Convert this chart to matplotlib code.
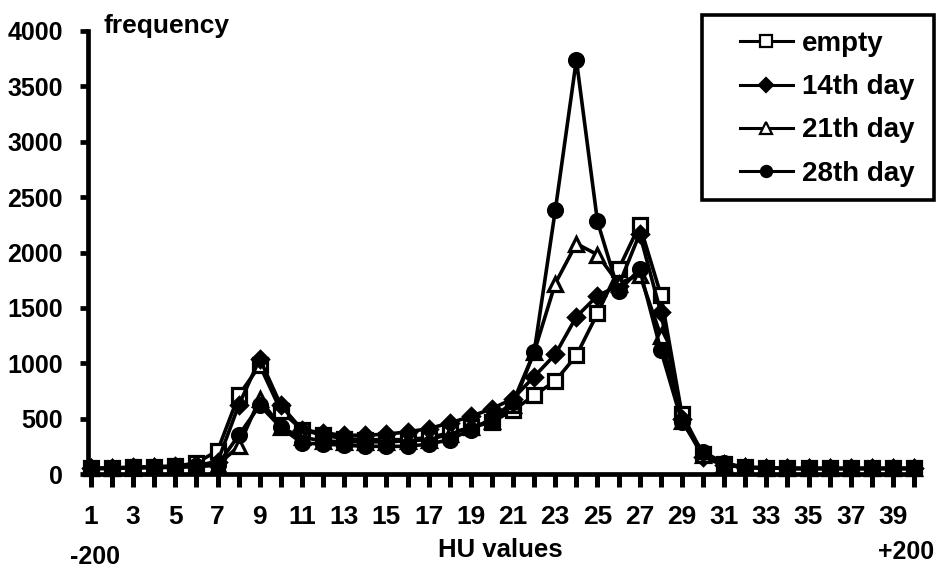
import matplotlib
matplotlib.use("Agg")
import matplotlib.pyplot as plt
from matplotlib.lines import Line2D
from matplotlib.patches import Rectangle

plt.rcParams['font.family'] = ['Liberation Sans', 'DejaVu Sans']
plt.rcParams['font.weight'] = 'bold'

categories = list(range(1, 41))
empty = [50, 55, 60, 65, 70, 100, 210, 710, 980, 570, 400, 350, 320, 310, 310, 310, 330, 370, 420, 470,
         575, 710, 840, 1070, 1450, 1850, 2250, 1620, 540, 180, 90, 60, 55, 50, 50, 50, 50, 50, 50, 50]
day14 = [50, 55, 60, 65, 70, 80, 110, 620, 1040, 620, 400, 370, 350, 350, 360, 380, 410, 460, 520, 590,
         680, 880, 1080, 1420, 1610, 1700, 2170, 1460, 500, 150, 80, 60, 55, 50, 50, 50, 50, 50, 50, 50]
day21 = [50, 50, 55, 60, 60, 70, 80, 250, 680, 420, 330, 300, 290, 290, 290, 300, 310, 360, 420, 480,
         620, 1100, 1720, 2080, 1980, 1720, 1800, 1250, 480, 170, 90, 60, 55, 50, 50, 50, 50, 50, 50, 50]
day28 = [50, 50, 55, 60, 60, 70, 80, 350, 620, 420, 280, 270, 260, 250, 250, 250, 270, 310, 400, 500,
         650, 1100, 2380, 3740, 2280, 1650, 1850, 1120, 470, 200, 100, 60, 55, 50, 50, 50, 50, 50, 50, 50]
series_labels = ['empty', '14th day', '21th day', '28th day']
yticks = [0, 500, 1000, 1500, 2000, 2500, 3000, 3500, 4000]

W, H = 937, 571
fig = plt.figure(figsize=(W/100, H/100), dpi=100)
ax = fig.add_axes([88/W, 1-474/H, (917-88)/W, (474-31)/H])

styles = [
    dict(marker='s', markerfacecolor='white', markersize=10),
    dict(marker='D', markerfacecolor='black', markersize=8.5),
    dict(marker='^', markerfacecolor='white', markersize=10),
    dict(marker='o', markerfacecolor='black', markersize=10),
]
for vals, lab, st in zip([empty, day14, day21, day28], series_labels, styles):
    ax.plot(categories, vals, color='black', linewidth=2.6, markeredgecolor='black',
            markeredgewidth=2.3, clip_on=False, label=lab, **st)

ax.set_xlim(0.86, 40.14)
ax.set_ylim(0, 4000)
ax.set_yticks(yticks)
ax.set_yticklabels([str(v) for v in yticks], fontsize=18, fontweight='bold')
ax.set_xticks(categories)
ax.set_xticklabels([str(c) if c % 2 == 1 else '' for c in categories], fontsize=19, fontweight='bold')

for s in ['top', 'right']:
    ax.spines[s].set_visible(False)
for s in ['left', 'bottom']:
    ax.spines[s].set_linewidth(3.4)
ax.tick_params(axis='y', direction='out', length=6, width=3.4, pad=12)
ax.tick_params(axis='x', direction='out', length=9, width=3.6, pad=13)

fig.text(104/W, 1-26/H, 'frequency', fontsize=19, fontweight='bold', ha='left', va='center')
fig.text(500/W, 1-550/H, 'HU values', fontsize=18.5, fontweight='bold', ha='center', va='center')
fig.text(95/W, 1-557/H, '-200', fontsize=18, fontweight='bold', ha='center', va='center')
fig.text(906/W, 1-552/H, '+200', fontsize=18, fontweight='bold', ha='center', va='center')

leg_handles = [Line2D([0], [0], color='black', linewidth=2.2, marker=st['marker'],
                      markerfacecolor=st['markerfacecolor'], markeredgecolor='black',
                      markeredgewidth=1.6, markersize=st['markersize']*0.8) for st in styles]
leg = fig.legend(leg_handles, series_labels, loc='upper left', bbox_to_anchor=(740/W, 1-31/H),
                 frameon=False, prop={'size': 20, 'weight': 'bold'}, handlelength=1.9,
                 handletextpad=0.32, labelspacing=0.62, borderpad=0, borderaxespad=0)
fig.patches.append(Rectangle((702/W, 1-200/H), (934-702)/W, (200-15)/H, transform=fig.transFigure,
                             fill=False, edgecolor='black', linewidth=2.6))

fig.savefig('out.png', dpi=100)
